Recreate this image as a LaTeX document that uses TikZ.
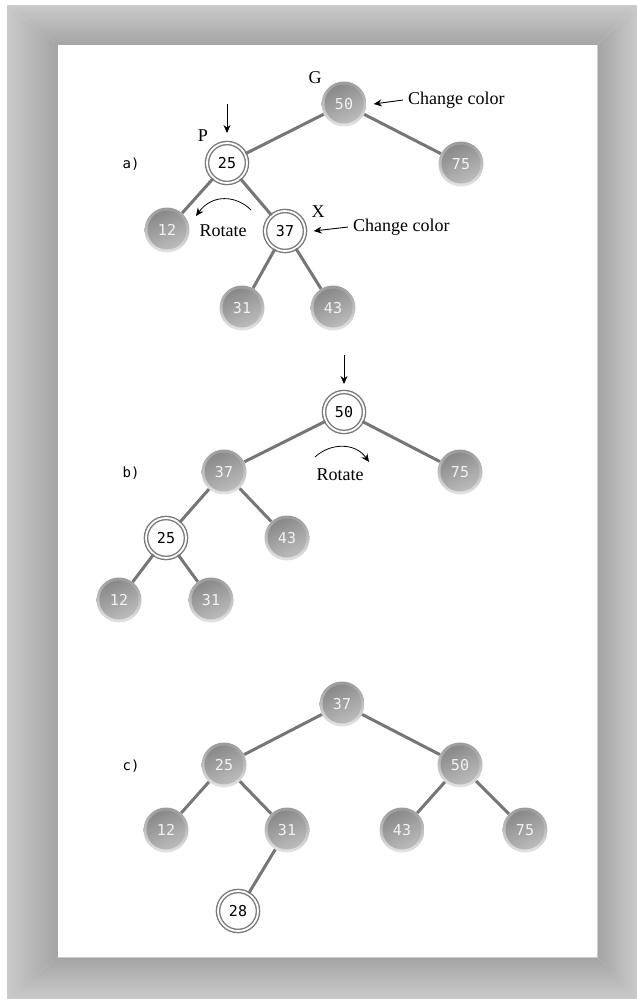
\documentclass[tikz,border=0pt]{standalone}
\usepackage{fontspec}
\setmainfont{Liberation Serif}
\newfontfamily\numfont{DejaVu Sans Mono}
\usetikzlibrary{arrows.meta}
\definecolor{frlight}{HTML}{CACACA}
\definecolor{frdark}{HTML}{A4A4A4}
\definecolor{ringtop}{HTML}{9A9A9A}
\definecolor{ringbot}{HTML}{E4E4E4}
\definecolor{bodytop}{HTML}{858585}
\definecolor{bodybot}{HTML}{C0C0C0}
\definecolor{numtext}{HTML}{F2F2F2}
\definecolor{edgec}{HTML}{767676}
\definecolor{ringc}{HTML}{7A7A7A}
\begin{document}
\begin{tikzpicture}[x=1pt,y=-1pt,
  gnode/.style={circle, minimum size=45pt, inner sep=0pt, top color=ringtop, bottom color=ringbot,
    font=\numfont\fontsize{15}{17}\selectfont, text=numtext,
    path picture={\shade[top color=bodytop, bottom color=bodybot, shading angle=25]
      (path picture bounding box.center) circle (19.5pt);}},
  wnode/.style={circle, minimum size=40pt, inner sep=0pt, fill=white, draw=ringc,
    line width=1.4pt, double=white, double distance=1.8pt,
    font=\numfont\fontsize{15}{17}\selectfont, text=black},
  tedge/.style={draw=edgec, line width=3pt},
  lbl/.style={font=\fontsize{18}{20}\selectfont, inner sep=0pt},
  part/.style={font=\numfont\fontsize{14}{16}\selectfont, inner sep=0pt},
  arr/.style={-{Stealth[length=8pt,width=7pt]}, line width=0.9pt, black},
  carr/.style={-{Stealth[length=8pt,width=7pt]}, line width=0.8pt, black}
]
\useasboundingbox (0,0) rectangle (637,999);
% frame
\shade[left color=frlight, right color=frdark] (7,5) -- (58,45) -- (58,957) -- (7,999) -- cycle;
\shade[top color=frlight, bottom color=frdark] (7,5) -- (637,5) -- (597,45) -- (58,45) -- cycle;
\shade[left color=frdark, right color=frlight] (637,5) -- (637,999) -- (597,957) -- (597,45) -- cycle;
\shade[top color=frdark, bottom color=frlight] (7,999) -- (637,999) -- (597,957) -- (58,957) -- cycle;
\fill[white] (58,45) rectangle (597,957);
\draw[gray!40, line width=1pt] (58,957) -- (597,957) -- (597,45);

% ---------- a)
\node[gnode] (a50) at (344,104) {50};
\node[gnode] (a75) at (461,164) {75};
\node[wnode] (a25) at (227,163) {25};
\node[gnode] (a12) at (167,230) {12};
\node[wnode] (a37) at (285,231) {37};
\node[gnode] (a31) at (242,308) {31};
\node[gnode] (a43) at (333,308) {43};
\draw[tedge] (a50) -- (a25);
\draw[tedge] (a50) -- (a75);
\draw[tedge] (a25) -- (a12);
\draw[tedge] (a25) -- (a37);
\draw[tedge] (a37) -- (a31);
\draw[tedge] (a37) -- (a43);
\node[part] (la) at (131,164) {a)};
\node[lbl] (lG) at (315,78) {G};
\node[lbl] (lP) at (203,136) {P};
\node[lbl] (lX) at (318,212) {X};
\node[lbl, anchor=west] (cc1) at (408,100) {Change color};
\node[lbl, anchor=west] (cc2) at (353,227) {Change color};
\node[lbl] (rot1) at (223,231) {Rotate};
\coordinate (pdownS) at (227,104);
\coordinate (pdownE) at (227,133);
\draw[arr] (pdownS) -- (pdownE);
\draw[arr] ([xshift=-5pt]cc1.west) -- ([xshift=7pt]a50.east);
\draw[arr] ([xshift=-5pt]cc2.west) -- ([xshift=8pt]a37.east);
\coordinate (r1s) at (251,210);
\coordinate (r1e) at (196,216);
\draw[carr] (r1s) .. controls (236,195) and (212,194) .. (r1e);

% ---------- b)
\node[wnode] (b50) at (344,412) {50};
\node[gnode] (b37) at (224,472) {37};
\node[gnode] (b75) at (460,472) {75};
\node[wnode] (b25) at (166,538) {25};
\node[gnode] (b43) at (287,538) {43};
\node[gnode] (b12) at (119,600) {12};
\node[gnode] (b31) at (211,600) {31};
\draw[tedge] (b50) -- (b37);
\draw[tedge] (b50) -- (b75);
\draw[tedge] (b37) -- (b25);
\draw[tedge] (b37) -- (b43);
\draw[tedge] (b25) -- (b12);
\draw[tedge] (b25) -- (b31);
\node[part] (lb) at (131,473) {b)};
\node[lbl] (rot2) at (340,475) {Rotate};
\coordinate (bdownS) at (344,355);
\coordinate (bdownE) at (344,384);
\draw[arr] (bdownS) -- (bdownE);
\coordinate (r2s) at (315,457);
\coordinate (r2e) at (369,462);
\draw[carr] (r2s) .. controls (330,443) and (355,442) .. (r2e);

% ---------- c)
\node[gnode] (c37) at (342,704) {37};
\node[gnode] (c25) at (224,765) {25};
\node[gnode] (c50) at (460,765) {50};
\node[gnode] (c12) at (166,830) {12};
\node[gnode] (c31) at (287,830) {31};
\node[gnode] (c43) at (402,830) {43};
\node[gnode] (c75) at (525,830) {75};
\node[wnode] (c28) at (238,911) {28};
\draw[tedge] (c37) -- (c25);
\draw[tedge] (c37) -- (c50);
\draw[tedge] (c25) -- (c12);
\draw[tedge] (c25) -- (c31);
\draw[tedge] (c50) -- (c43);
\draw[tedge] (c50) -- (c75);
\draw[tedge] (c31) -- (c28);
\node[part] (lc) at (131,766) {c)};
\end{tikzpicture}
\end{document}
